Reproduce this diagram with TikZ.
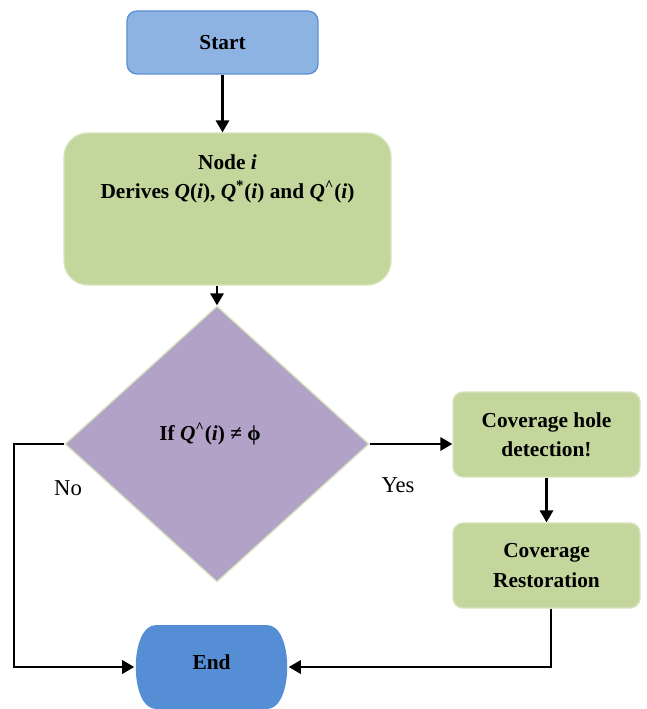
\documentclass[tikz,border=0pt]{standalone}
\usepackage{fontspec}
\setmainfont{Liberation Serif}
\usetikzlibrary{shapes.geometric,arrows.meta}
\definecolor{startfill}{HTML}{8DB3E2}
\definecolor{startdraw}{HTML}{5B8FD6}
\definecolor{endfill}{HTML}{558ED5}
\definecolor{greenfill}{HTML}{C3D69B}
\definecolor{greendraw}{HTML}{D7E4BD}
\definecolor{purplefill}{HTML}{B2A2C7}
\tikzset{
  txt/.style={font=\bfseries\fontsize{16pt}{22pt}\selectfont, align=center},
  greenbox/.style={draw=greendraw, line width=1pt, fill=greenfill, rounded corners=7.5pt, inner sep=0pt},
  conn/.style={line width=1.7pt, -{Triangle[length=9pt,width=10pt]}},
  lbl/.style={font=\fontsize{17pt}{20pt}\selectfont}
}
\begin{document}
\begin{tikzpicture}[x=0.75pt,y=-0.75pt]
\useasboundingbox (0,0) rectangle (646,709);
% Start
\node[draw=startdraw, line width=1pt, fill=startfill, rounded corners=7.5pt,
      minimum width=143.25pt, minimum height=47.25pt, inner sep=0pt, txt] (start) at (222.5,42.5) {Start};
% Node i box
\node[greenbox, rounded corners=18pt, minimum width=245.25pt, minimum height=114pt] (derive) at (227.5,209) {};
\node[txt] (derivetxt) at (227.5,179) {Node \textit{i}\\Derives \textit{Q}(\textit{i}), \textit{Q}\textsuperscript{*}(\textit{i}) and \textit{Q}\textsuperscript{\textasciicircum}(\textit{i})};
% Diamond
\node[diamond, draw=greendraw, line width=1pt, fill=purplefill, inner sep=0pt,
      minimum width=228pt, minimum height=207pt, shape aspect=1.1] (cond) at (217,444) {};
\node[txt] (condtxt) at (210,434) {If \textit{Q}\textsuperscript{\textasciicircum}(\textit{i}) ≠ ϕ};
% Right boxes
\node[greenbox, minimum width=140.25pt, minimum height=63.75pt, txt] (hole) at (546.5,434.5) {Coverage hole\\detection!};
\node[greenbox, minimum width=140.25pt, minimum height=63.75pt, txt] (rest) at (546.5,565.5) {Coverage\\Restoration};
% End terminator
\node[minimum width=115.5pt, minimum height=63pt, inner sep=0pt] (end) at (211.5,667) {};
\fill[endfill] (156,625) -- (267,625) .. controls (294,625) and (294,709) .. (267,709)
  -- (156,709) .. controls (129,709) and (129,625) .. (156,625) -- cycle;
\node[txt] (endtxt) at (211.5,662) {End};
% Connectors
\draw[conn] (start.south) -- (start.south |- derive.north);
\draw[conn] (cond.north |- derive.south) -- (cond.north);
\draw[conn] (cond.east) -- (cond.east -| hole.west);
\draw[conn] (hole.south) -- (rest.north);
\coordinate (lcorner) at (14,444);
\draw[conn] (cond.west) -- (lcorner) |- (end.west);
\draw[conn] ([xshift=3.5pt]rest.south) |- (end.east);
% Labels
\node[lbl] (yes) at (398,485) {Yes};
\node[lbl] (no) at (68,488) {No};
\end{tikzpicture}
\end{document}
